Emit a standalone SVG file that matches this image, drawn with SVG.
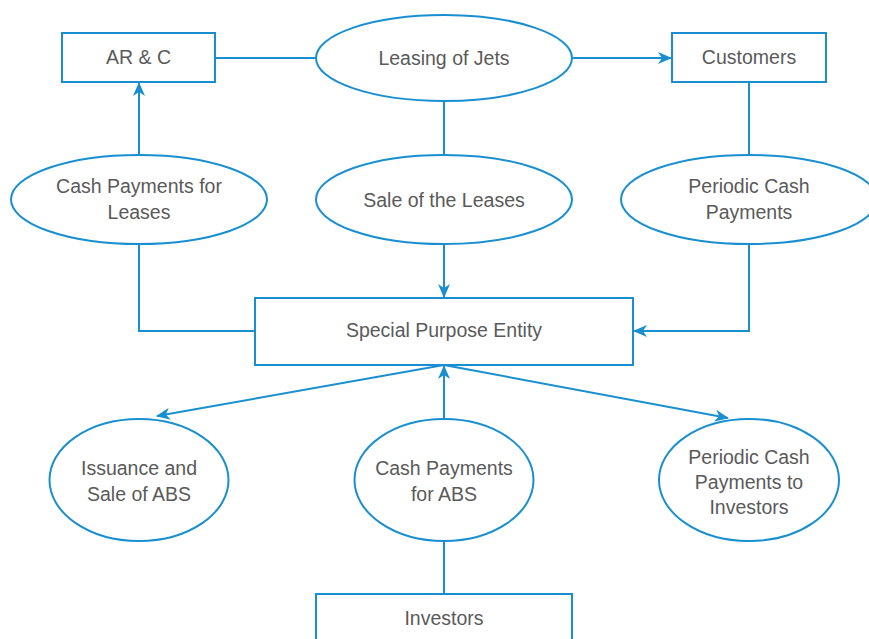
<svg xmlns="http://www.w3.org/2000/svg" width="869" height="639" viewBox="0 0 869 639">
<defs>
<style>
.n{fill:#fff;stroke:#1a8fd0;stroke-width:2}
.c{fill:none;stroke:#1a8fd0;stroke-width:2}
text{font-family:"Liberation Sans",Arial,sans-serif;font-size:19.5px;fill:#5a5a5a;text-anchor:middle}
</style>
<marker id="ah" viewBox="0 0 14 12" refX="13" refY="6" markerWidth="14" markerHeight="12" markerUnits="userSpaceOnUse" orient="auto">
<path d="M0,0 L14,6 L0,12 L4,6 z" fill="#1a8fd0"/>
</marker>
</defs>
<rect width="869" height="639" fill="#fff"/>
<g id="connectors">
<line class="c" x1="215" y1="58" x2="316" y2="58"/>
<line class="c" x1="572" y1="58" x2="671" y2="58" marker-end="url(#ah)"/>
<line class="c" x1="444" y1="101" x2="444" y2="155"/>
<line class="c" x1="749" y1="82" x2="749" y2="155"/>
<line class="c" x1="139" y1="155" x2="139" y2="83" marker-end="url(#ah)"/>
<polyline class="c" points="139,244 139,331 255,331"/>
<line class="c" x1="444" y1="244" x2="444" y2="297" marker-end="url(#ah)"/>
<polyline class="c" points="749,244 749,331 634,331" marker-end="url(#ah)"/>
<line class="c" x1="444" y1="365" x2="157" y2="416" marker-end="url(#ah)"/>
<line class="c" x1="444" y1="365" x2="728" y2="418" marker-end="url(#ah)"/>
<line class="c" x1="444" y1="419" x2="444" y2="366" marker-end="url(#ah)"/>
<line class="c" x1="444" y1="541" x2="444" y2="594"/>
</g>
<g id="arc"><rect class="n" x="62" y="33" width="153" height="49"/><text x="138.5" y="64">AR &amp; C</text></g>
<g id="leasing"><ellipse class="n" cx="444" cy="58" rx="128" ry="43"/><text x="444" y="65">Leasing of Jets</text></g>
<g id="customers"><rect class="n" x="672" y="33" width="154" height="49"/><text x="749" y="64">Customers</text></g>
<g id="cashleases"><ellipse class="n" cx="139" cy="199.5" rx="128" ry="44.5"/><text x="139" y="193">Cash Payments for</text><text x="139" y="219">Leases</text></g>
<g id="sale"><ellipse class="n" cx="444" cy="199.5" rx="128" ry="44.5"/><text x="444" y="207">Sale of the Leases</text></g>
<g id="periodic"><ellipse class="n" cx="749" cy="199.5" rx="128" ry="44.5"/><text x="749" y="193">Periodic Cash</text><text x="749" y="219">Payments</text></g>
<g id="spe"><rect class="n" x="255" y="298" width="378" height="67"/><text x="444" y="337">Special Purpose Entity</text></g>
<g id="issuance"><ellipse class="n" cx="139" cy="480" rx="89.5" ry="61"/><text x="139" y="475">Issuance and</text><text x="139" y="501">Sale of ABS</text></g>
<g id="cashabs"><ellipse class="n" cx="444" cy="480" rx="89.5" ry="61"/><text x="444" y="475">Cash Payments</text><text x="444" y="501">for ABS</text></g>
<g id="periodicinv"><ellipse class="n" cx="749" cy="480" rx="90" ry="61"/><text x="749" y="464">Periodic Cash</text><text x="749" y="489">Payments to</text><text x="749" y="514">Investors</text></g>
<g id="investors"><rect class="n" x="316" y="594" width="256" height="60"/><text x="444" y="625">Investors</text></g>
</svg>
